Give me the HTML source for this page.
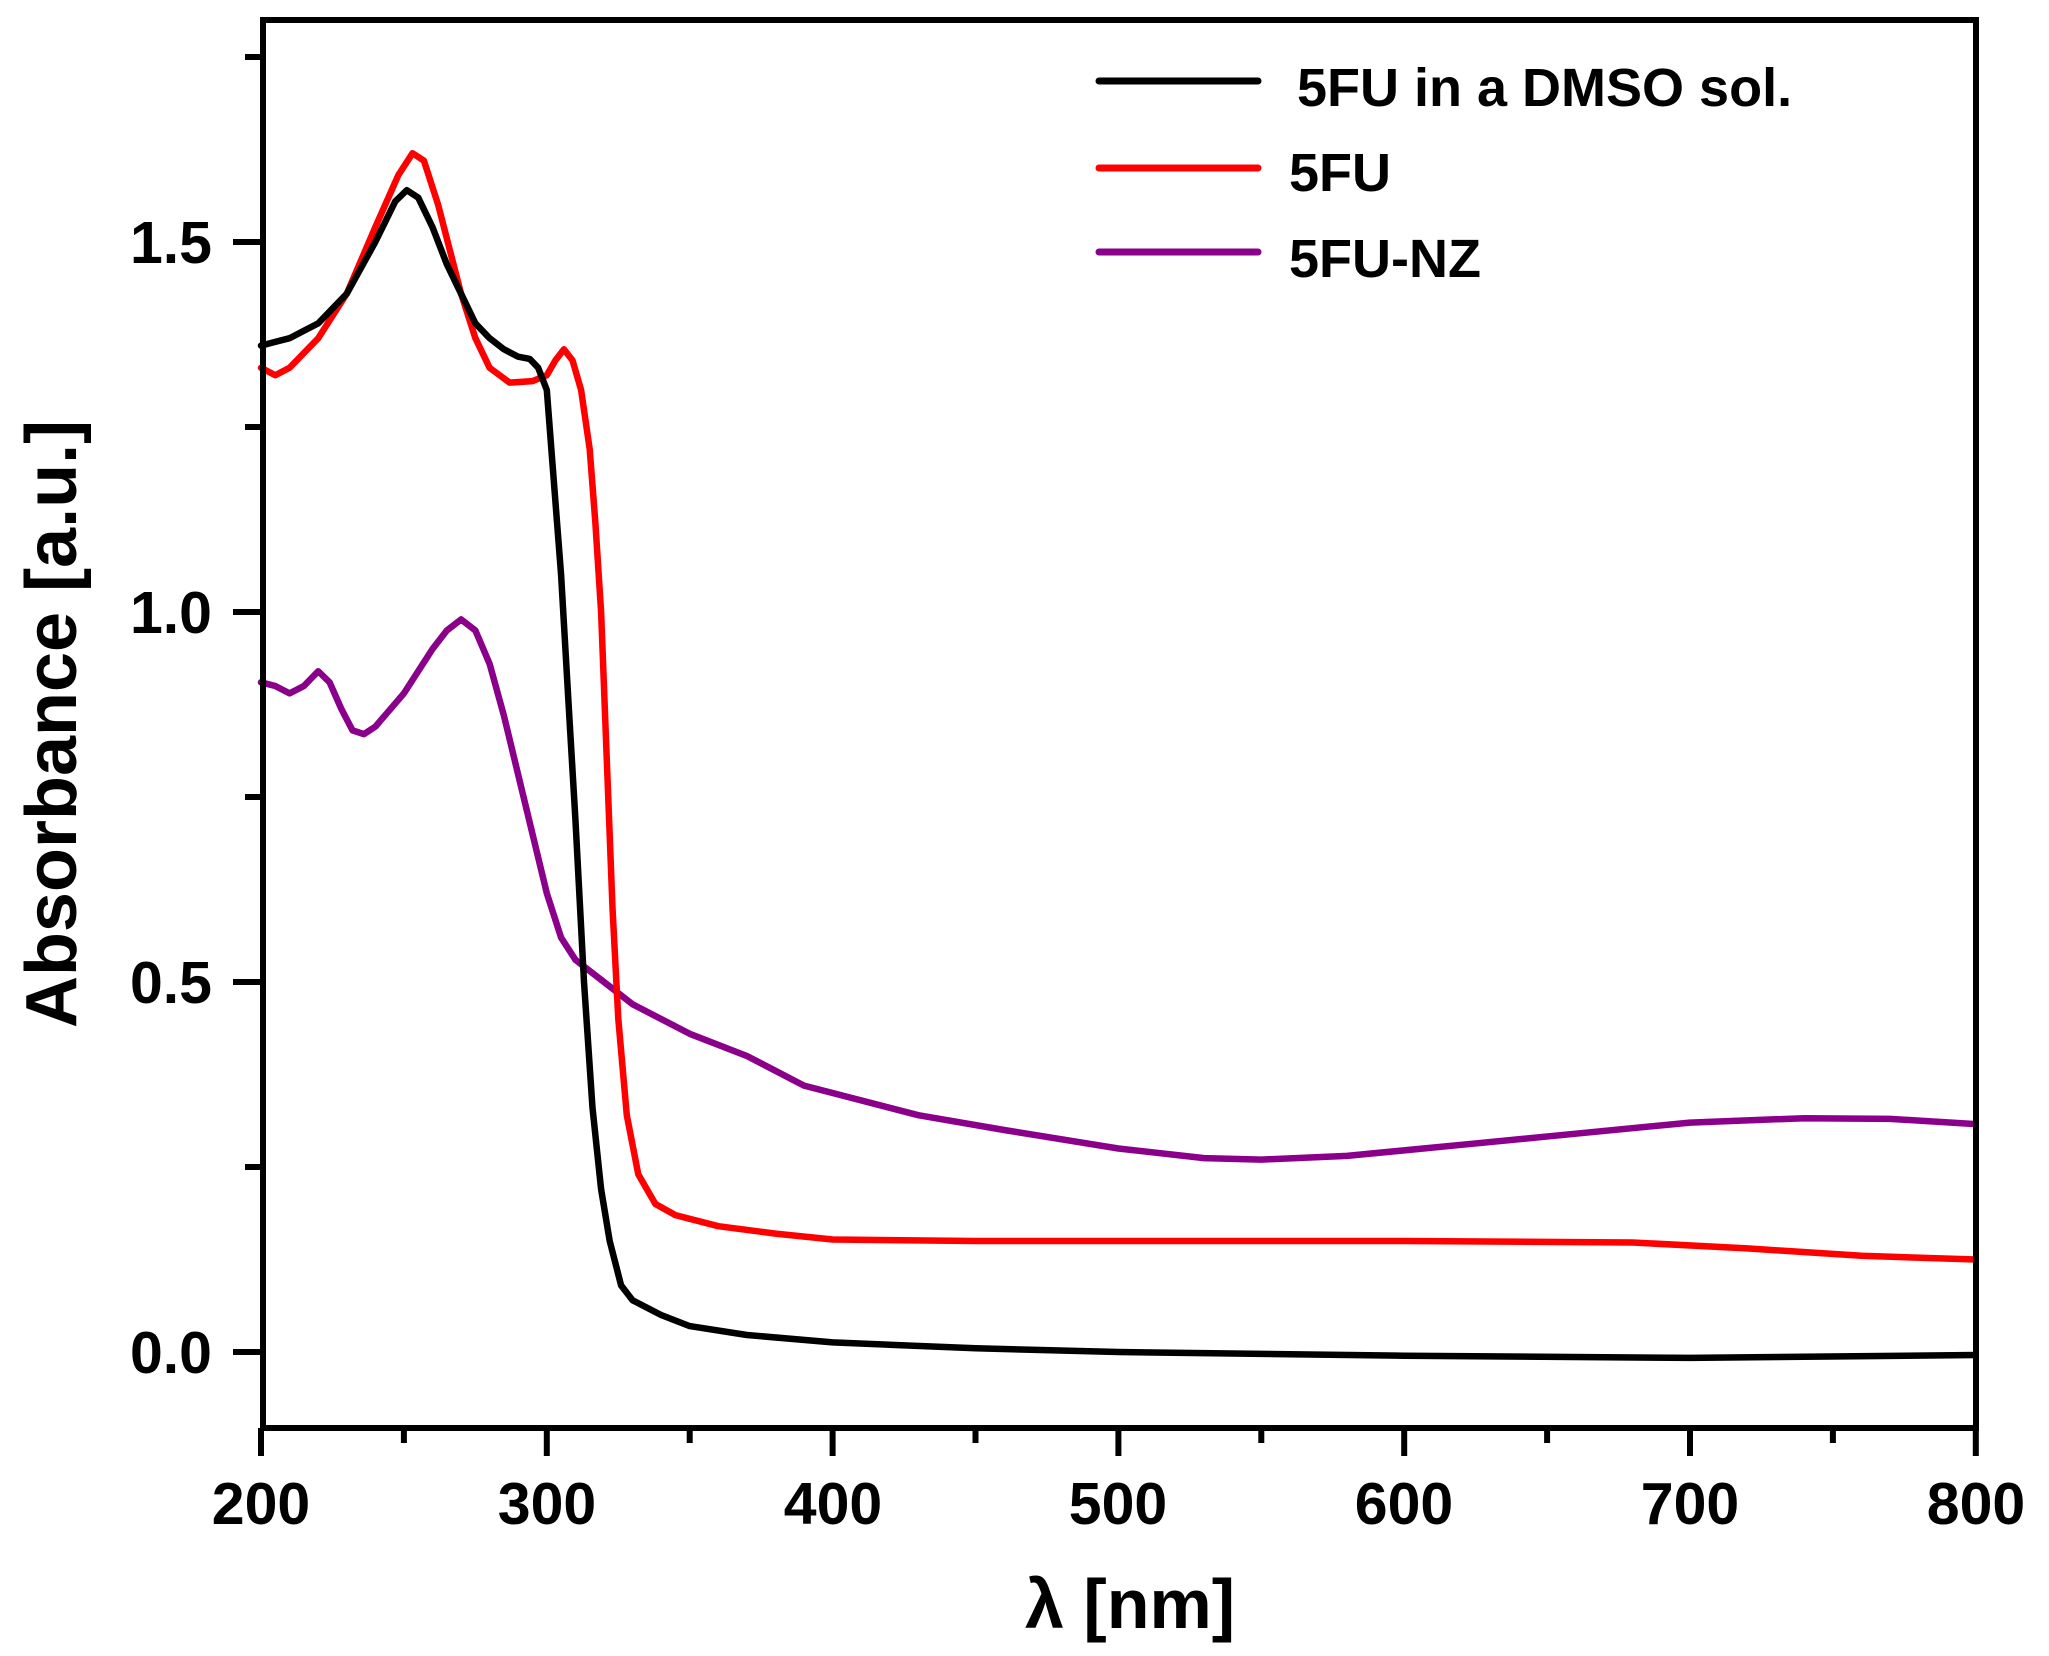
<!DOCTYPE html>
<html><head><meta charset="utf-8"><style>
html,body{margin:0;padding:0;background:#fff;}
svg{display:block;}
text{font-family:"Liberation Sans",Arial,sans-serif;font-weight:bold;fill:#000;}
</style></head><body>
<svg id="s" width="2049" height="1656" viewBox="0 0 2049 1656" xmlns="http://www.w3.org/2000/svg">
<g id="curves" fill="none" stroke-width="6.5" stroke-linejoin="round" stroke-linecap="round"></g>
<rect x="263" y="20" width="1713" height="1408" fill="none" stroke="#000" stroke-width="6"/>
<g stroke="#000" stroke-width="6" id="ticks"></g>
<g font-size="59" text-anchor="end">
<text x="212" y="1373">0.0</text>
<text x="212" y="1003">0.5</text>
<text x="212" y="633">1.0</text>
<text x="212" y="263">1.5</text>
</g>
<g font-size="59" text-anchor="middle">
<text x="261" y="1524">200</text>
<text x="547" y="1524">300</text>
<text x="833" y="1524">400</text>
<text x="1118" y="1524">500</text>
<text x="1404" y="1524">600</text>
<text x="1690" y="1524">700</text>
<text x="1976" y="1524">800</text>
</g>
<text x="1130" y="1628" font-size="70" text-anchor="middle">λ [nm]</text>
<text transform="translate(76,724) rotate(-90)" font-size="72" text-anchor="middle">Absorbance [a.u.]</text>
<g stroke-width="7" stroke-linecap="round">
<line x1="1099" y1="81" x2="1258" y2="81" stroke="#000"/>
<line x1="1099" y1="168" x2="1258" y2="168" stroke="#ff0000"/>
<line x1="1099" y1="252" x2="1258" y2="252" stroke="#8b008b"/>
</g>
<g font-size="54">
<text x="1297" y="106">5FU in a DMSO sol.</text>
<text x="1289" y="191">5FU</text>
<text x="1289" y="277">5FU-NZ</text>
</g>
</svg>
<script>
var X=function(n){return 261+(n-200)*2.858;},Y=function(a){return 1352-a*740;};
var data={
"#000":[[200,1.36],[205,1.365],[210,1.37],[215,1.38],[220,1.39],[230,1.43],[240,1.50],[247,1.555],[251,1.57],[255,1.56],[260,1.52],[265,1.47],[270,1.43],[275,1.39],[280,1.37],[285,1.355],[290,1.345],[294,1.342],[297,1.33],[300,1.30],[302,1.2],[305,1.05],[308,0.85],[310,0.72],[313,0.5],[316,0.33],[319,0.22],[322,0.15],[326,0.09],[330,0.07],[340,0.05],[350,0.035],[370,0.023],[400,0.013],[450,0.005],[500,0.0],[600,-0.005],[700,-0.008],[800,-0.004]],
"#ff0000":[[200,1.33],[205,1.32],[210,1.33],[220,1.37],[230,1.43],[240,1.52],[248,1.59],[253,1.62],[257,1.61],[262,1.55],[270,1.43],[275,1.37],[280,1.33],[287,1.31],[295,1.312],[300,1.32],[303,1.34],[306,1.355],[309,1.34],[312,1.30],[315,1.22],[317,1.12],[319,1.0],[321,0.8],[323,0.6],[325,0.45],[328,0.32],[332,0.24],[338,0.20],[345,0.185],[360,0.17],[380,0.16],[400,0.152],[450,0.15],[600,0.15],[680,0.148],[720,0.14],[760,0.13],[800,0.125]],
"#8b008b":[[200,0.905],[205,0.90],[210,0.89],[215,0.90],[220,0.92],[224,0.905],[228,0.87],[232,0.84],[236,0.835],[240,0.845],[250,0.89],[260,0.95],[265,0.975],[270,0.99],[275,0.975],[280,0.93],[285,0.86],[290,0.78],[295,0.70],[300,0.62],[305,0.56],[310,0.53],[320,0.50],[330,0.47],[350,0.43],[370,0.40],[390,0.36],[400,0.35],[430,0.32],[460,0.30],[500,0.275],[530,0.262],[550,0.26],[580,0.265],[620,0.28],[660,0.295],[700,0.31],[740,0.316],[770,0.315],[800,0.308]]};
var g=document.getElementById('curves'),ns="http://www.w3.org/2000/svg";
["#8b008b","#ff0000","#000"].forEach(function(c){var p=document.createElementNS(ns,'path');
p.setAttribute('d','M'+data[c].map(function(q){return X(q[0]).toFixed(1)+','+Y(q[1]).toFixed(1);}).join('L'));
p.setAttribute('stroke',c);g.appendChild(p);});
var t=document.getElementById('ticks'),s='';
for(var i=0;i<8;i++){var y=Y(i*0.25);var L=i%2==0?30:18;s+='<line x1="'+(263-L)+'" y1="'+y+'" x2="263" y2="'+y+'"/>';}
for(var n=200;n<=800;n+=50){var x=X(n);var L=n%100==0?28:15;s+='<line x1="'+x+'" y1="1428" x2="'+x+'" y2="'+(1428+L)+'"/>';}
t.innerHTML=s;
</script>
</body></html>
